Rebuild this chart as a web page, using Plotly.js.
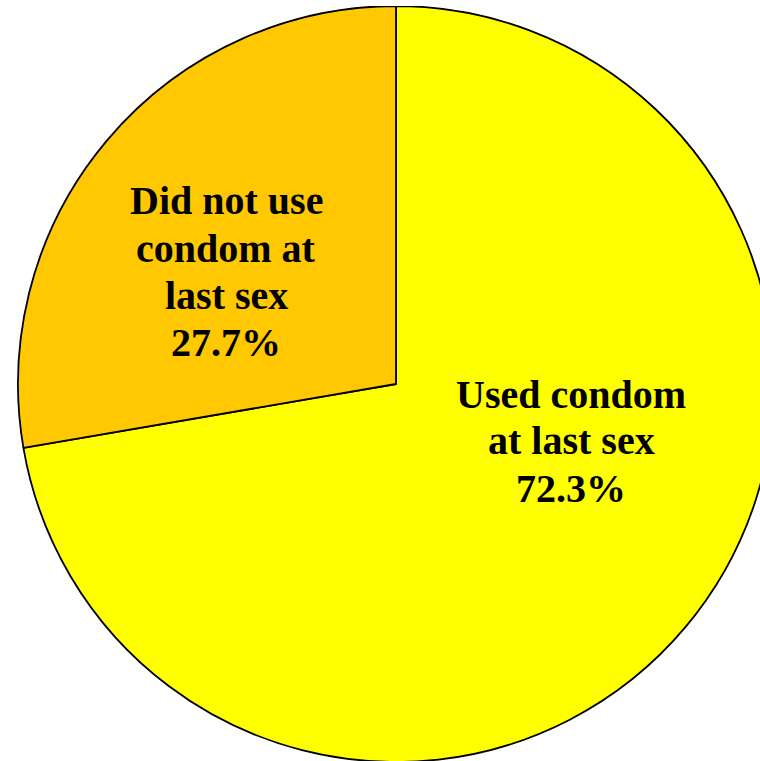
<!DOCTYPE html>
<html>
<head>
<meta charset="utf-8">
<script src="https://cdn.plot.ly/plotly-3.0.1.min.js"></script>
<style>
html, body { margin:0; padding:0; width:760px; height:761px; overflow:hidden; background:#fff; }
#chart { position:absolute; left:0; top:6px; width:792px; height:756px; }
</style>
</head>
<body>
<div id="chart"></div>
<script>
const categories = ["Used condom<br>at last sex", "Did not use<br>condom at<br>last sex"];
const values = [72.3, 27.7];
const colors = ["#FFFF00", "#FFC800"];

const W = 792, H = 756;
// label anchor positions (pixels within the plot div), first-line centre
const labelPos = [
  {x: 571, y: 388},
  {x: 226, y: 195}
];
const lineGap = 47;

const annotations = [];
categories.forEach((cat, i) => {
  const lines = cat.split("<br>").concat([values[i].toFixed(1) + "%"]);
  lines.forEach((ln, j) => {
    annotations.push({
      text: ln,
      xref: "paper", yref: "paper",
      x: labelPos[i].x / W,
      y: 1 - (labelPos[i].y + j * lineGap) / H,
      xanchor: "center", yanchor: "middle",
      showarrow: false,
      font: {family: "Liberation Serif, Times New Roman, serif", size: 40, color: "#000", weight: "bold"}
    });
  });
});

const data = [{
  type: "pie",
  labels: categories,
  values: values,
  sort: false,
  direction: "clockwise",
  rotation: 0,
  textinfo: "none",
  hoverinfo: "none",
  marker: {colors: colors, line: {color: "#000", width: 1.8}},
  domain: {x: [0, 1], y: [0, 1]}
}];

const layout = {
  width: W, height: H,
  margin: {l: 0, r: 0, t: 0, b: 0},
  showlegend: false,
  paper_bgcolor: "rgba(0,0,0,0)",
  plot_bgcolor: "rgba(0,0,0,0)",
  annotations: annotations
};

Plotly.newPlot("chart", data, layout, {staticPlot: true, displayModeBar: false});
</script>
</body>
</html>
